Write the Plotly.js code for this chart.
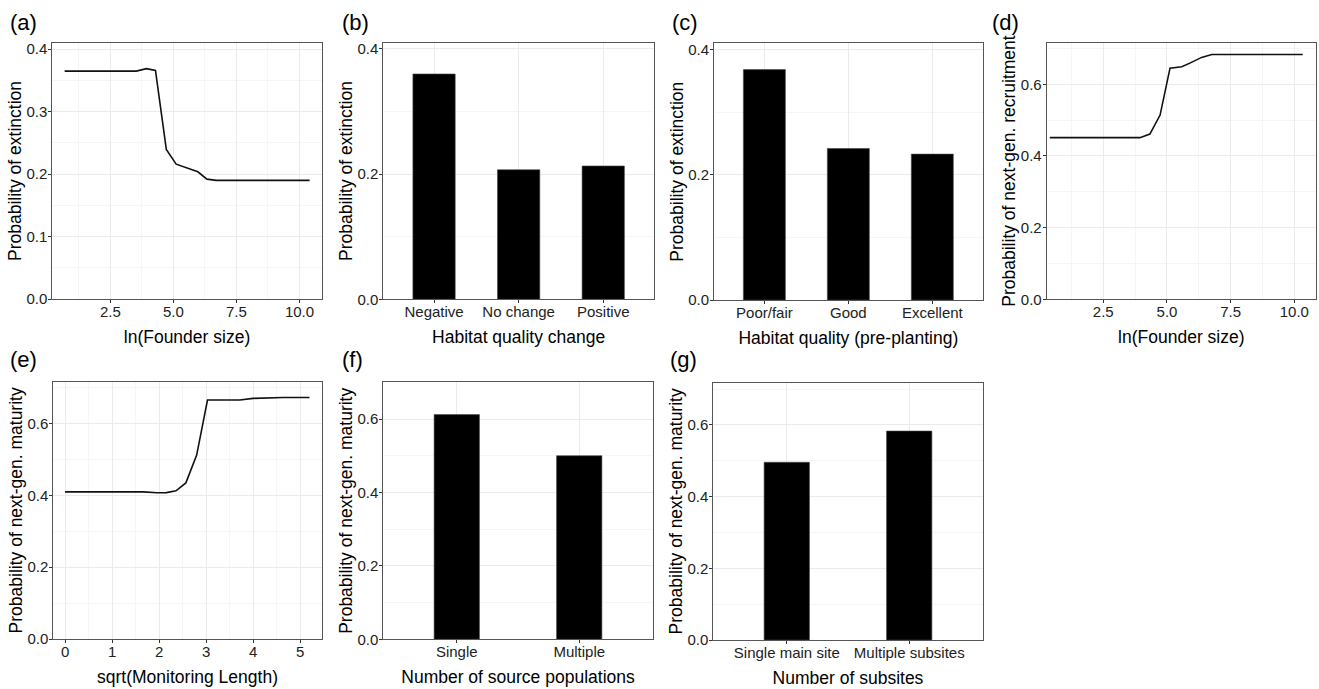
<!DOCTYPE html>
<html>
<head>
<meta charset="utf-8">
<script src="https://cdn.plot.ly/plotly-3.0.1.min.js"></script>
<style>html,body{margin:0;padding:0;background:#fff;}#chart{width:1319px;height:689px;}</style>
</head>
<body>
<div id="chart"></div>
<script>
// ---- Data ----
const aX = [0.69, 3.53, 3.93, 4.29, 4.72, 5.11, 5.97, 6.33, 6.70, 10.4];
const aY = [0.365, 0.365, 0.369, 0.366, 0.2395, 0.216, 0.2037, 0.192, 0.190, 0.190];

const bCats = ["Negative", "No change", "Positive"];
const bVals = [0.360, 0.207, 0.213];

const cCats = ["Poor/fair", "Good", "Excellent"];
const cVals = [0.368, 0.242, 0.233];

const dX = [0.4, 3.94, 4.33, 4.73, 5.12, 5.58, 5.9, 6.36, 6.76, 10.33];
const dY = [0.451, 0.451, 0.461, 0.514, 0.645, 0.649, 0.659, 0.675, 0.683, 0.683];

const eX = [0, 1.67, 1.95, 2.16, 2.36, 2.57, 2.80, 3.03, 3.72, 4.0, 4.64, 5.2];
const eY = [0.410, 0.410, 0.4075, 0.408, 0.413, 0.435, 0.5125, 0.666, 0.666, 0.6705, 0.673, 0.673];

const fCats = ["Single", "Multiple"];
const fVals = [0.612, 0.500];

const gCats = ["Single main site", "Multiple subsites"];
const gVals = [0.496, 0.583];

const panelLabels = ["(a)", "(b)", "(c)", "(d)", "(e)", "(f)", "(g)"];

// ---- Layout helpers ----
const W = 1319, H = 689;
const FONT = "Liberation Sans, Arial, Helvetica, sans-serif";
function xd(l, r) { return [l / W, r / W]; }
function yd(t, b) { return [1 - b / H, 1 - t / H]; }

function baseAxis(extra) {
  return Object.assign({
    showline: true, linecolor: '#555', linewidth: 1, mirror: true,
    ticks: 'outside', ticklen: 3, tickcolor: '#333', tickwidth: 1,
    showgrid: true, gridcolor: '#ebebeb', gridwidth: 1,
    zeroline: false, automargin: false, fixedrange: true,
    tickfont: { family: FONT, size: 15, color: '#222' }
  }, extra);
}
function ttl(text, standoff) {
  return { text: text, font: { family: FONT, size: 17.5, color: '#000' }, standoff: standoff };
}
const minorGrid = (dt) => ({ dtick: dt, showgrid: true, gridcolor: '#f2f2f2', gridwidth: 0.7, ticks: '' });

const lineStyle = { color: '#111', width: 1.6 };
const barMarker = { color: '#000', line: { color: '#444', width: 0.6 } };

const traces = [
  { type: 'scatter', mode: 'lines', x: aX, y: aY, line: lineStyle, xaxis: 'x', yaxis: 'y', hoverinfo: 'skip' },
  { type: 'bar', x: bCats, y: bVals, width: 0.5, marker: barMarker, xaxis: 'x2', yaxis: 'y2', hoverinfo: 'skip' },
  { type: 'bar', x: cCats, y: cVals, width: 0.5, marker: barMarker, xaxis: 'x3', yaxis: 'y3', hoverinfo: 'skip' },
  { type: 'scatter', mode: 'lines', x: dX, y: dY, line: lineStyle, xaxis: 'x4', yaxis: 'y4', hoverinfo: 'skip' },
  { type: 'scatter', mode: 'lines', x: eX, y: eY, line: lineStyle, xaxis: 'x5', yaxis: 'y5', hoverinfo: 'skip' },
  { type: 'bar', x: fCats, y: fVals, width: 0.37, marker: barMarker, xaxis: 'x6', yaxis: 'y6', hoverinfo: 'skip' },
  { type: 'bar', x: gCats, y: gVals, width: 0.37, marker: barMarker, xaxis: 'x7', yaxis: 'y7', hoverinfo: 'skip' }
];

const XS = 11, YS = 0;
const XT = { ticklabelstandoff: -4 };
const YT = { ticklabelstandoff: -2 };
const layout = {
  width: W, height: H,
  margin: { l: 0, r: 0, t: 0, b: 0 },
  paper_bgcolor: '#fff', plot_bgcolor: '#fff',
  showlegend: false,
  font: { family: FONT },
  // (a)
  xaxis: baseAxis(Object.assign({ domain: xd(52.3, 321.7), anchor: 'y', range: [0.2, 10.88], tick0: 0, dtick: 2.5, tickformat: '.1f', minor: minorGrid(1.25), title: ttl('ln(Founder size)', XS) }, XT)),
  yaxis: baseAxis(Object.assign({ domain: yd(43, 299), anchor: 'x', range: [0, 0.41], tick0: 0, dtick: 0.1, tickformat: '.1f', minor: minorGrid(0.05), title: ttl('Probability of extinction', YS) }, YT)),
  // (b)
  xaxis2: baseAxis(Object.assign({ domain: xd(383.3, 654), anchor: 'y2', type: 'category', range: [-0.6, 2.6], title: ttl('Habitat quality change', XS) }, XT)),
  yaxis2: baseAxis(Object.assign({ domain: yd(42.7, 299.3), anchor: 'x2', range: [0, 0.41], tick0: 0, dtick: 0.2, tickformat: '.1f', minor: minorGrid(0.1), title: ttl('Probability of extinction', YS) }, YT)),
  // (c)
  xaxis3: baseAxis(Object.assign({ domain: xd(714, 982.7), anchor: 'y3', type: 'category', range: [-0.6, 2.6], title: ttl('Habitat quality (pre-planting)', XS) }, XT)),
  yaxis3: baseAxis(Object.assign({ domain: yd(43.3, 300), anchor: 'x3', range: [0, 0.41], tick0: 0, dtick: 0.2, tickformat: '.1f', minor: minorGrid(0.1), title: ttl('Probability of extinction', YS) }, YT)),
  // (d)
  xaxis4: baseAxis(Object.assign({ domain: xd(1046.7, 1316), anchor: 'y4', range: [0.28, 10.85], tick0: 0, dtick: 2.5, tickformat: '.1f', minor: minorGrid(1.25), title: ttl('ln(Founder size)', XS) }, XT)),
  yaxis4: baseAxis(Object.assign({ domain: yd(42.7, 299.3), anchor: 'x4', range: [0, 0.716], tick0: 0, dtick: 0.2, tickformat: '.1f', minor: minorGrid(0.1), title: ttl('Probability of next-gen. recruitment', YS) }, YT)),
  // (e)
  xaxis5: baseAxis(Object.assign({ domain: xd(53.3, 321.7), anchor: 'y5', range: [-0.25, 5.46], tick0: 0, dtick: 1, minor: minorGrid(0.5), title: ttl('sqrt(Monitoring Length)', XS) }, XT)),
  yaxis5: baseAxis(Object.assign({ domain: yd(381.7, 639), anchor: 'x5', range: [0, 0.717], tick0: 0, dtick: 0.2, tickformat: '.1f', minor: minorGrid(0.1), title: ttl('Probability of next-gen. maturity', YS) }, YT)),
  // (f)
  xaxis6: baseAxis(Object.assign({ domain: xd(383.3, 652.7), anchor: 'y6', type: 'category', range: [-0.6, 1.6], title: ttl('Number of source populations', XS) }, XT)),
  yaxis6: baseAxis(Object.assign({ domain: yd(382.3, 639.3), anchor: 'x6', range: [0, 0.70], tick0: 0, dtick: 0.2, tickformat: '.1f', minor: minorGrid(0.1), title: ttl('Probability of next-gen. maturity', YS) }, YT)),
  // (g)
  xaxis7: baseAxis(Object.assign({ domain: xd(713.3, 982.7), anchor: 'y7', type: 'category', range: [-0.6, 1.6], title: ttl('Number of subsites', XS) }, XT)),
  yaxis7: baseAxis(Object.assign({ domain: yd(382.7, 640), anchor: 'x7', range: [0, 0.718], tick0: 0, dtick: 0.2, tickformat: '.1f', minor: minorGrid(0.1), title: ttl('Probability of next-gen. maturity', YS) }, YT)),
  annotations: []
};

const labelPos = [[8, 22], [340, 22], [670, 22], [990, 22], [8, 359], [340, 359], [668, 359]];
panelLabels.forEach((t, i) => {
  layout.annotations.push({
    text: t, xref: 'paper', yref: 'paper',
    x: labelPos[i][0] / W, y: 1 - labelPos[i][1] / H,
    xanchor: 'left', yanchor: 'middle', showarrow: false,
    font: { family: FONT, size: 22, color: '#000' }
  });
});

Plotly.newPlot('chart', traces, layout, { staticPlot: true, displayModeBar: false });
</script>
</body>
</html>
